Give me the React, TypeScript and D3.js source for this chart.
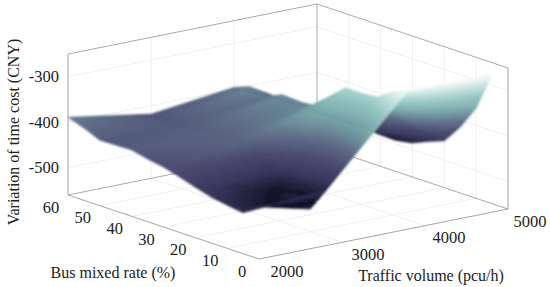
import React from "react";
import * as d3 from "d3";

const width = 550;
const height = 287;

// grid of the surface
const trafficVolumes = [2000, 3000, 4000, 5000];
const busRates = [5, 10, 15, 20, 25, 30, 35, 40, 45, 50, 55, 60];

// time cost per bus rate, one list per traffic volume
const costAt2000 = [-470, -465, -459, -449, -438, -428, -422, -414, -415, -416, -401, -389];
const costAt3000 = [-457, -510, -501, -490, -450, -405, -406, -407, -410, -413, -416, -419];
const costAt4000 = [-272, -290, -313, -316, -316, -347, -378, -381, -378, -394, -384, -397];
const costAt5000 = [-277, -362, -415, -457, -470, -485, -491, -490, -488, -489, -490, -490];
const costs = [costAt2000, costAt3000, costAt4000, costAt5000];

const trafficTicks = [2000, 3000, 4000, 5000];
const busTicks = [0, 10, 20, 30, 40, 50, 60];
const costTicks = [-300, -400, -500];

// colour ramp
const rampStops = [-510, -490, -460, -430, -400, -370, -350, -330, -300, -277];
const rampColors = ["#2b2b4a", "#0f0f22", "#33315a", "#46466c", "#5c6a85", "#6f9aa2", "#84b3b3", "#93c5c2", "#c8e3e0", "#f6faf9"];

const FONT = "'Liberation Serif', serif";
const BOX = "#a9a9a9";
const GRID = "#f0f0f0";

// oblique projection of the box
const trafficX = d3.scaleLinear().domain([2000, 5000]).range([0, 249]);
const trafficY = d3.scaleLinear().domain([2000, 5000]).range([0, -50]);
const busX = d3.scaleLinear().domain([0, 60]).range([0, -191]);
const busY = d3.scaleLinear().domain([0, 60]).range([0, -64]);
const costY = d3.scaleLinear().domain([-560, -250]).range([0, -141]);
const trafficLabelX = d3.scaleLinear().domain([2000, 5000]).range([287, 530]);
const color = d3.scaleLinear<string>().domain(rampStops).range(rampColors).interpolate(d3.interpolateRgb).clamp(true);

const project = (t: number, b: number, c: number): [number, number] => [
  259 + trafficX(t) + busX(b),
  259 + trafficY(t) + busY(b) + costY(c),
];

const line = d3.line();

const seg = (a: [number, number, number], b: [number, number, number]) =>
  line([project(a[0], a[1], a[2]), project(b[0], b[1], b[2])]) as string;

const [tMin, tMax] = [2000, 5000];
const [bMin, bMax] = [0, 60];
const [cMin, cMax] = [-560, -250];

const SUB_T = 40;
const SUB_B = 8;

function buildPatches() {
  const patches: { d: string; fill: string }[] = [];
  // far cells first: high traffic and high bus rate are at the back
  for (let i = trafficVolumes.length - 2; i >= 0; i--) {
    for (let si = SUB_T - 1; si >= 0; si--) {
      for (let j = busRates.length - 2; j >= 0; j--) {
        for (let sj = SUB_B - 1; sj >= 0; sj--) {
          const at = (u: number, v: number) => {
            const t = d3.interpolateNumber(trafficVolumes[i], trafficVolumes[i + 1])(u);
            const b = d3.interpolateNumber(busRates[j], busRates[j + 1])(v);
            const c0 = d3.interpolateNumber(costs[i][j], costs[i + 1][j])(u);
            const c1 = d3.interpolateNumber(costs[i][j + 1], costs[i + 1][j + 1])(u);
            const c = d3.interpolateNumber(c0, c1)(v);
            return { t, b, c };
          };
          const corners = [
            at(si / SUB_T, sj / SUB_B),
            at((si + 1) / SUB_T, sj / SUB_B),
            at((si + 1) / SUB_T, (sj + 1) / SUB_B),
            at(si / SUB_T, (sj + 1) / SUB_B),
          ];
          const pts = corners.map((p) => project(p.t, p.b, p.c));
          patches.push({
            d: (line(pts) as string) + "Z",
            fill: color(d3.mean(corners, (p) => p.c) as number),
          });
        }
      }
    }
  }
  return patches;
}

export default function App() {
  const patches = buildPatches();
  const tickStyle = { fontFamily: FONT, fontSize: 16.5, fill: "#222" };
  const labelStyle = { fontFamily: FONT, fontSize: 16, fill: "#222" };

  return (
    <svg width={width} height={height} style={{ position: "absolute", left: 0, top: 0, background: "#fff" }}>
      <defs>
        <filter id="soft" x="-5%" y="-5%" width="110%" height="110%">
          <feGaussianBlur stdDeviation={0.8} />
        </filter>
      </defs>

      {/* wall and floor grid */}
      <g stroke={GRID} strokeWidth={1} fill="none">
        {trafficTicks.slice(0, -1).map((t) => (
          <g key={t}>
            <path d={seg([t, bMin, cMin], [t, bMax, cMin])} />
            <path d={seg([t, bMax, cMin], [t, bMax, cMax])} />
          </g>
        ))}
        {busTicks.slice(0, -1).map((b) => (
          <g key={b}>
            <path d={seg([tMin, b, cMin], [tMax, b, cMin])} />
            <path d={seg([tMax, b, cMin], [tMax, b, cMax])} />
          </g>
        ))}
        {costTicks.map((c) => (
          <g key={c}>
            <path d={seg([tMin, bMax, c], [tMax, bMax, c])} />
            <path d={seg([tMax, bMax, c], [tMax, bMin, c])} />
          </g>
        ))}
      </g>

      {/* box */}
      <g stroke={BOX} strokeWidth={1} fill="none">
        <path d={seg([tMin, bMax, cMin], [tMin, bMax, cMax])} />
        <path d={seg([tMin, bMax, cMax], [tMax, bMax, cMax])} />
        <path d={seg([tMax, bMax, cMax], [tMax, bMin, cMax])} />
        <path d={seg([tMax, bMin, cMax], [tMax, bMin, cMin])} />
        <path d={seg([tMax, bMax, cMin], [tMax, bMax, cMax])} />
        <path d={seg([tMin, bMax, cMin], [tMin, bMin, cMin])} />
        <path d={seg([tMin, bMin, cMin], [tMax, bMin, cMin])} />
        <path d={seg([tMax, bMin, cMin], [tMax, bMax, cMin])} />
        <path d={seg([tMin, bMax, cMin], [tMax, bMax, cMin])} />
      </g>

      {/* surface */}
      <g filter="url(#soft)">
        {patches.map((p, i) => (
          <path key={i} d={p.d} fill={p.fill} stroke={p.fill} strokeWidth={0.5} />
        ))}
      </g>

      {/* tick labels */}
      <g style={tickStyle}>
        {costTicks.map((c) => (
          <text key={c} x={59} y={project(tMin, bMax, c)[1]} textAnchor="end" dominantBaseline="central">
            {c}
          </text>
        ))}
        {busTicks.map((b) => {
          const [x, y] = project(tMin, b, cMin);
          return (
            <text key={b} x={x - 17} y={y + 12} textAnchor="middle" dominantBaseline="central">
              {b}
            </text>
          );
        })}
        {trafficTicks.map((t) => {
          const [, y] = project(t, bMin, cMin);
          return (
            <text key={t} x={trafficLabelX(t)} y={y + 12} textAnchor="middle" dominantBaseline="central">
              {t}
            </text>
          );
        })}
      </g>
      <g style={labelStyle}>
        <text x={113} y={272} textAnchor="middle" dominantBaseline="central">
          Bus mixed rate (%)
        </text>
        <text x={431} y={275} textAnchor="middle" dominantBaseline="central">
          Traffic volume (pcu/h)
        </text>
        <text
          transform="translate(13,132) rotate(-90)"
          textAnchor="middle"
          dominantBaseline="central"
        >
          Variation of time cost (CNY)
        </text>
      </g>
    </svg>
  );
}
